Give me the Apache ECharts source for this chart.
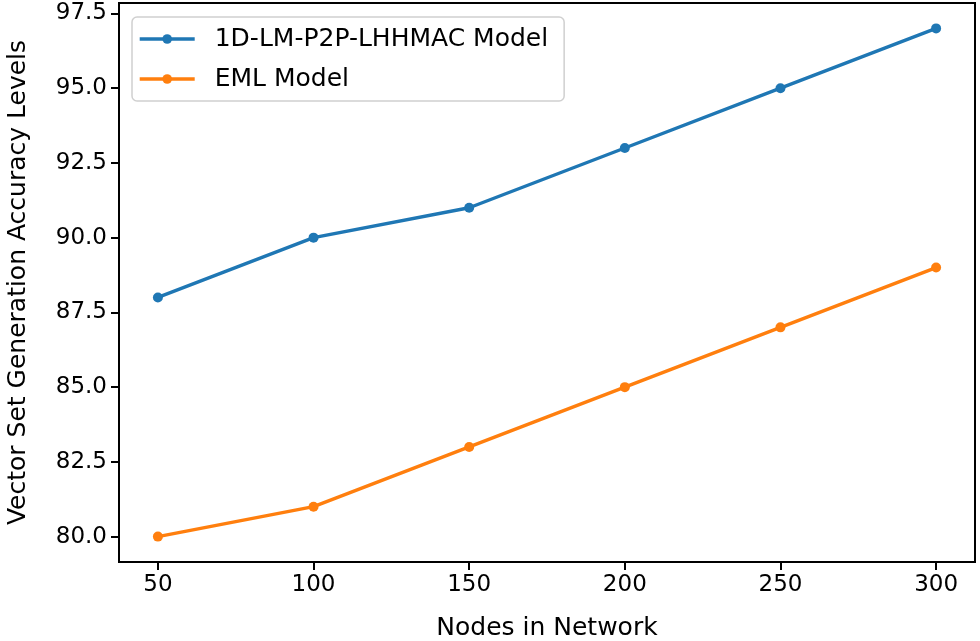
<!DOCTYPE html>
<html><head><meta charset="utf-8">
<script src="https://cdn.jsdelivr.net/npm/echarts@6/dist/echarts.min.js"></script>
<style>html,body{margin:0;padding:0;background:#fff}#c{width:980px;height:641px}</style>
</head><body><div id="c"></div>
<script>
const nodes = [50, 100, 150, 200, 250, 300];
const lhhmac = [88, 90, 91, 93, 95, 97];
const eml = [80, 81, 83, 85, 87, 89];
const yTicks = [80, 82.5, 85, 87.5, 90, 92.5, 95, 97.5];
const xTicks = [50, 100, 150, 200, 250, 300];

const font = 'DejaVu Sans';
const chart = echarts.init(document.getElementById('c'));
chart.setOption({
  animation: false,
  backgroundColor: '#fff',
  grid: {left: 119, right: 5, top: 3, bottom: 79, show: true, borderColor: '#000', borderWidth: 2,
         backgroundColor: 'transparent', containLabel: false, outerBoundsMode: 'none'},
  legend: {
    left: 132, top: 17, orient: 'vertical', itemGap: 12,
    padding: [8, 16, 8, 6],
    borderColor: '#d0d0d0', borderWidth: 1.5, borderRadius: 5,
    itemWidth: 55, itemHeight: 12,
    lineStyle: {width: 3.4},
    textStyle: {fontFamily: font, fontSize: 25, lineHeight: 28, color: '#000', padding: [0, 0, 0, 15]},
    data: ['1D-LM-P2P-LHHMAC Model', 'EML Model']
  },
  xAxis: {
    type: 'value', min: 37.5, max: 312.5,
    name: 'Nodes in Network', nameLocation: 'middle', nameGap: 54,
    nameTextStyle: {fontFamily: font, fontSize: 25, color: '#000'},
    axisLine: {show: false},
    splitLine: {show: false},
    axisTick: {show: true, length: 8, lineStyle: {color: '#000', width: 2}, customValues: xTicks},
    axisLabel: {fontFamily: font, fontSize: 23, color: '#000', margin: 12, customValues: xTicks}
  },
  yAxis: {
    type: 'value', min: 79.15, max: 97.85,
    name: 'Vector Set Generation Accuracy Levels', nameLocation: 'middle', nameGap: 88,
    nameTextStyle: {fontFamily: font, fontSize: 25, color: '#000'},
    axisLine: {show: false},
    splitLine: {show: false},
    axisTick: {show: true, length: 8, lineStyle: {color: '#000', width: 2}, customValues: yTicks},
    axisLabel: {fontFamily: font, fontSize: 23, color: '#000', margin: 12, customValues: yTicks,
      formatter: v => Number(v).toFixed(1)}
  },
  series: [
    {name: '1D-LM-P2P-LHHMAC Model', type: 'line', data: nodes.map((x, i) => [x, lhhmac[i]]),
     color: '#1f77b4', symbol: 'circle', symbolSize: 10, lineStyle: {width: 3.4}},
    {name: 'EML Model', type: 'line', data: nodes.map((x, i) => [x, eml[i]]),
     color: '#ff7f0e', symbol: 'circle', symbolSize: 10, lineStyle: {width: 3.4}}
  ]
});
</script></body></html>
